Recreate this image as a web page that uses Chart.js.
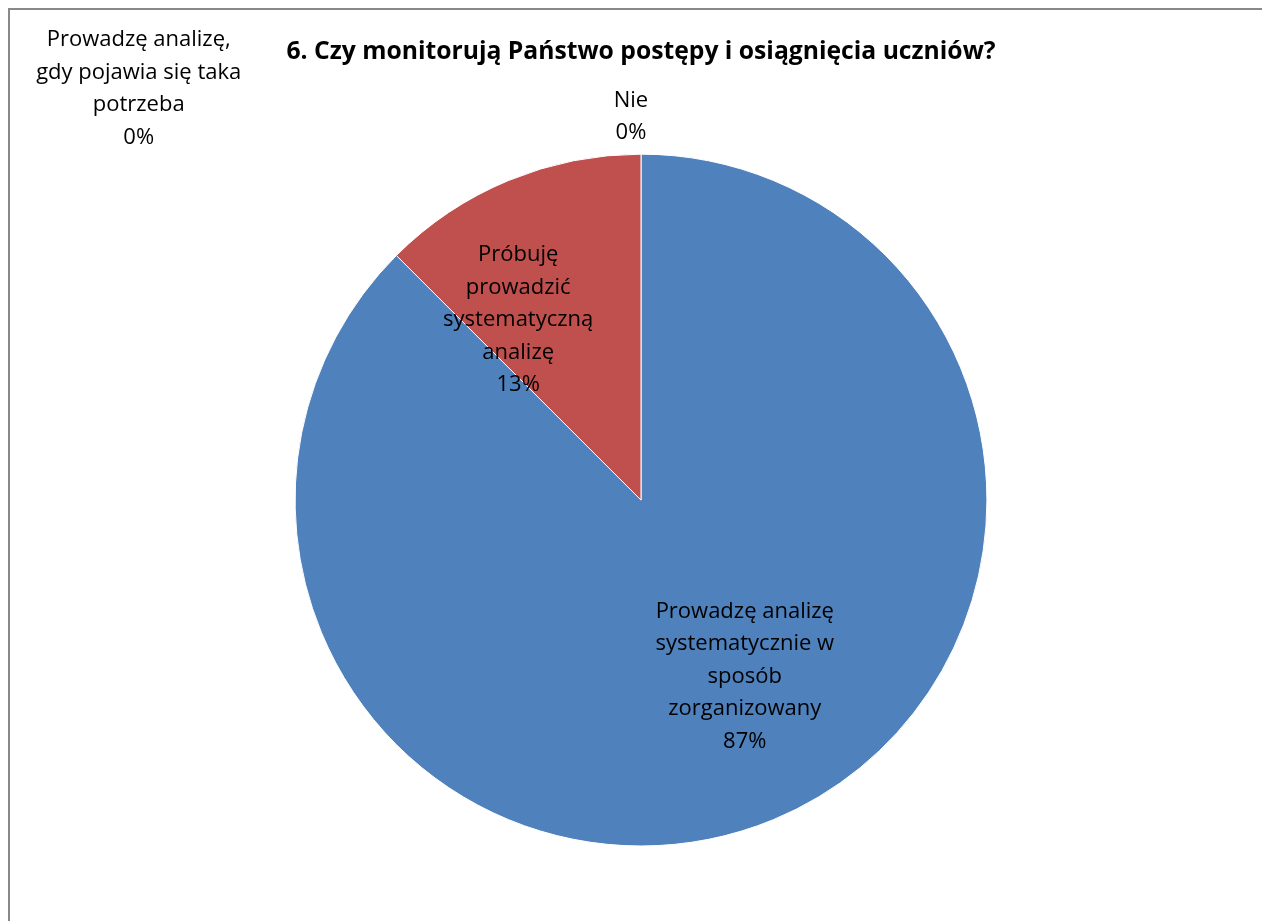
<!DOCTYPE html>
<html>
<head>
<meta charset="utf-8">
<script src="https://cdn.jsdelivr.net/npm/chart.js@4"></script>
<style>
    html, body { margin: 0; padding: 0; background: #fff; }
    #wrap { position: relative; width: 1262px; height: 921px; }
    #frame {
        position: absolute; left: 8px; top: 8px; width: 1270px; height: 930px;
        border: 2px solid #898989; pointer-events: none; box-sizing: border-box;
    }
</style>
</head>
<body>
<div id="wrap">
    <canvas id="myChart" width="1262" height="921"></canvas>
    <div id="frame"></div>
</div>
<script>
const title = "6. Czy monitorują Państwo postępy i osiągnięcia uczniów?";

const categories = [
    ["Prowadzę analizę", "systematycznie w", "sposób", "zorganizowany"],
    ["Próbuję", "prowadzić", "systematyczną", "analizę"],
    ["Nie"],
    ["Prowadzę analizę,", "gdy pojawia się taka", "potrzeba"],
];
const counts = [7, 1, 0, 0];
const percentLabels = ["87%", "13%", "0%", "0%"];
const colors = ["#4F81BD", "#C0504D", "#9BBB59", "#8064A2"];

// where each data label sits, in pie radii from the centre (like Excel's manual placement)
const labelAnchors = [
    [0.30, 0.51],
    [-0.355, -0.52],
    [-0.029, -1.108],
    [-1.452, -1.189],
];

const labelFont = "22px 'Open Sans', Lato, sans-serif";
const lineHeight = 32.5;

const dataLabels = {
    id: "dataLabels",
    afterDatasetsDraw(chart) {
        const ctx = chart.ctx;
        const arcs = chart.getDatasetMeta(0).data;
        const cx = arcs[0].x;
        const cy = arcs[0].y;
        const r = arcs[0].outerRadius;
        ctx.save();
        ctx.font = labelFont;
        ctx.fillStyle = "#000";
        ctx.textAlign = "center";
        ctx.textBaseline = "middle";
        categories.forEach((lines, i) => {
            const all = lines.concat([percentLabels[i]]);
            const x = cx + labelAnchors[i][0] * r;
            const y0 = cy + labelAnchors[i][1] * r - ((all.length - 1) * lineHeight) / 2;
            all.forEach((t, j) => ctx.fillText(t, x, y0 + j * lineHeight));
        });
        ctx.restore();
    },
};

const ctx = document.getElementById("myChart");
new Chart(ctx, {
    type: "pie",
    data: {
        labels: categories,
        datasets: [
            {
                data: counts,
                backgroundColor: colors,
                borderColor: "#ffffff",
                borderWidth: 1,
            },
        ],
    },
    options: {
        responsive: false,
        animation: false,
        layout: {
            padding: { left: 20, right: 0, top: 0, bottom: 74.5 },
        },
        plugins: {
            legend: { display: false },
            tooltip: { enabled: false },
            title: {
                display: true,
                text: title,
                color: "#000",
                font: { family: "'Open Sans', Lato, sans-serif", size: 24.7, weight: "bold", lineHeight: 1.2 },
                padding: { top: 37.5, bottom: 86.5 },
            },
        },
    },
    plugins: [dataLabels],
});
</script>
</body>
</html>
